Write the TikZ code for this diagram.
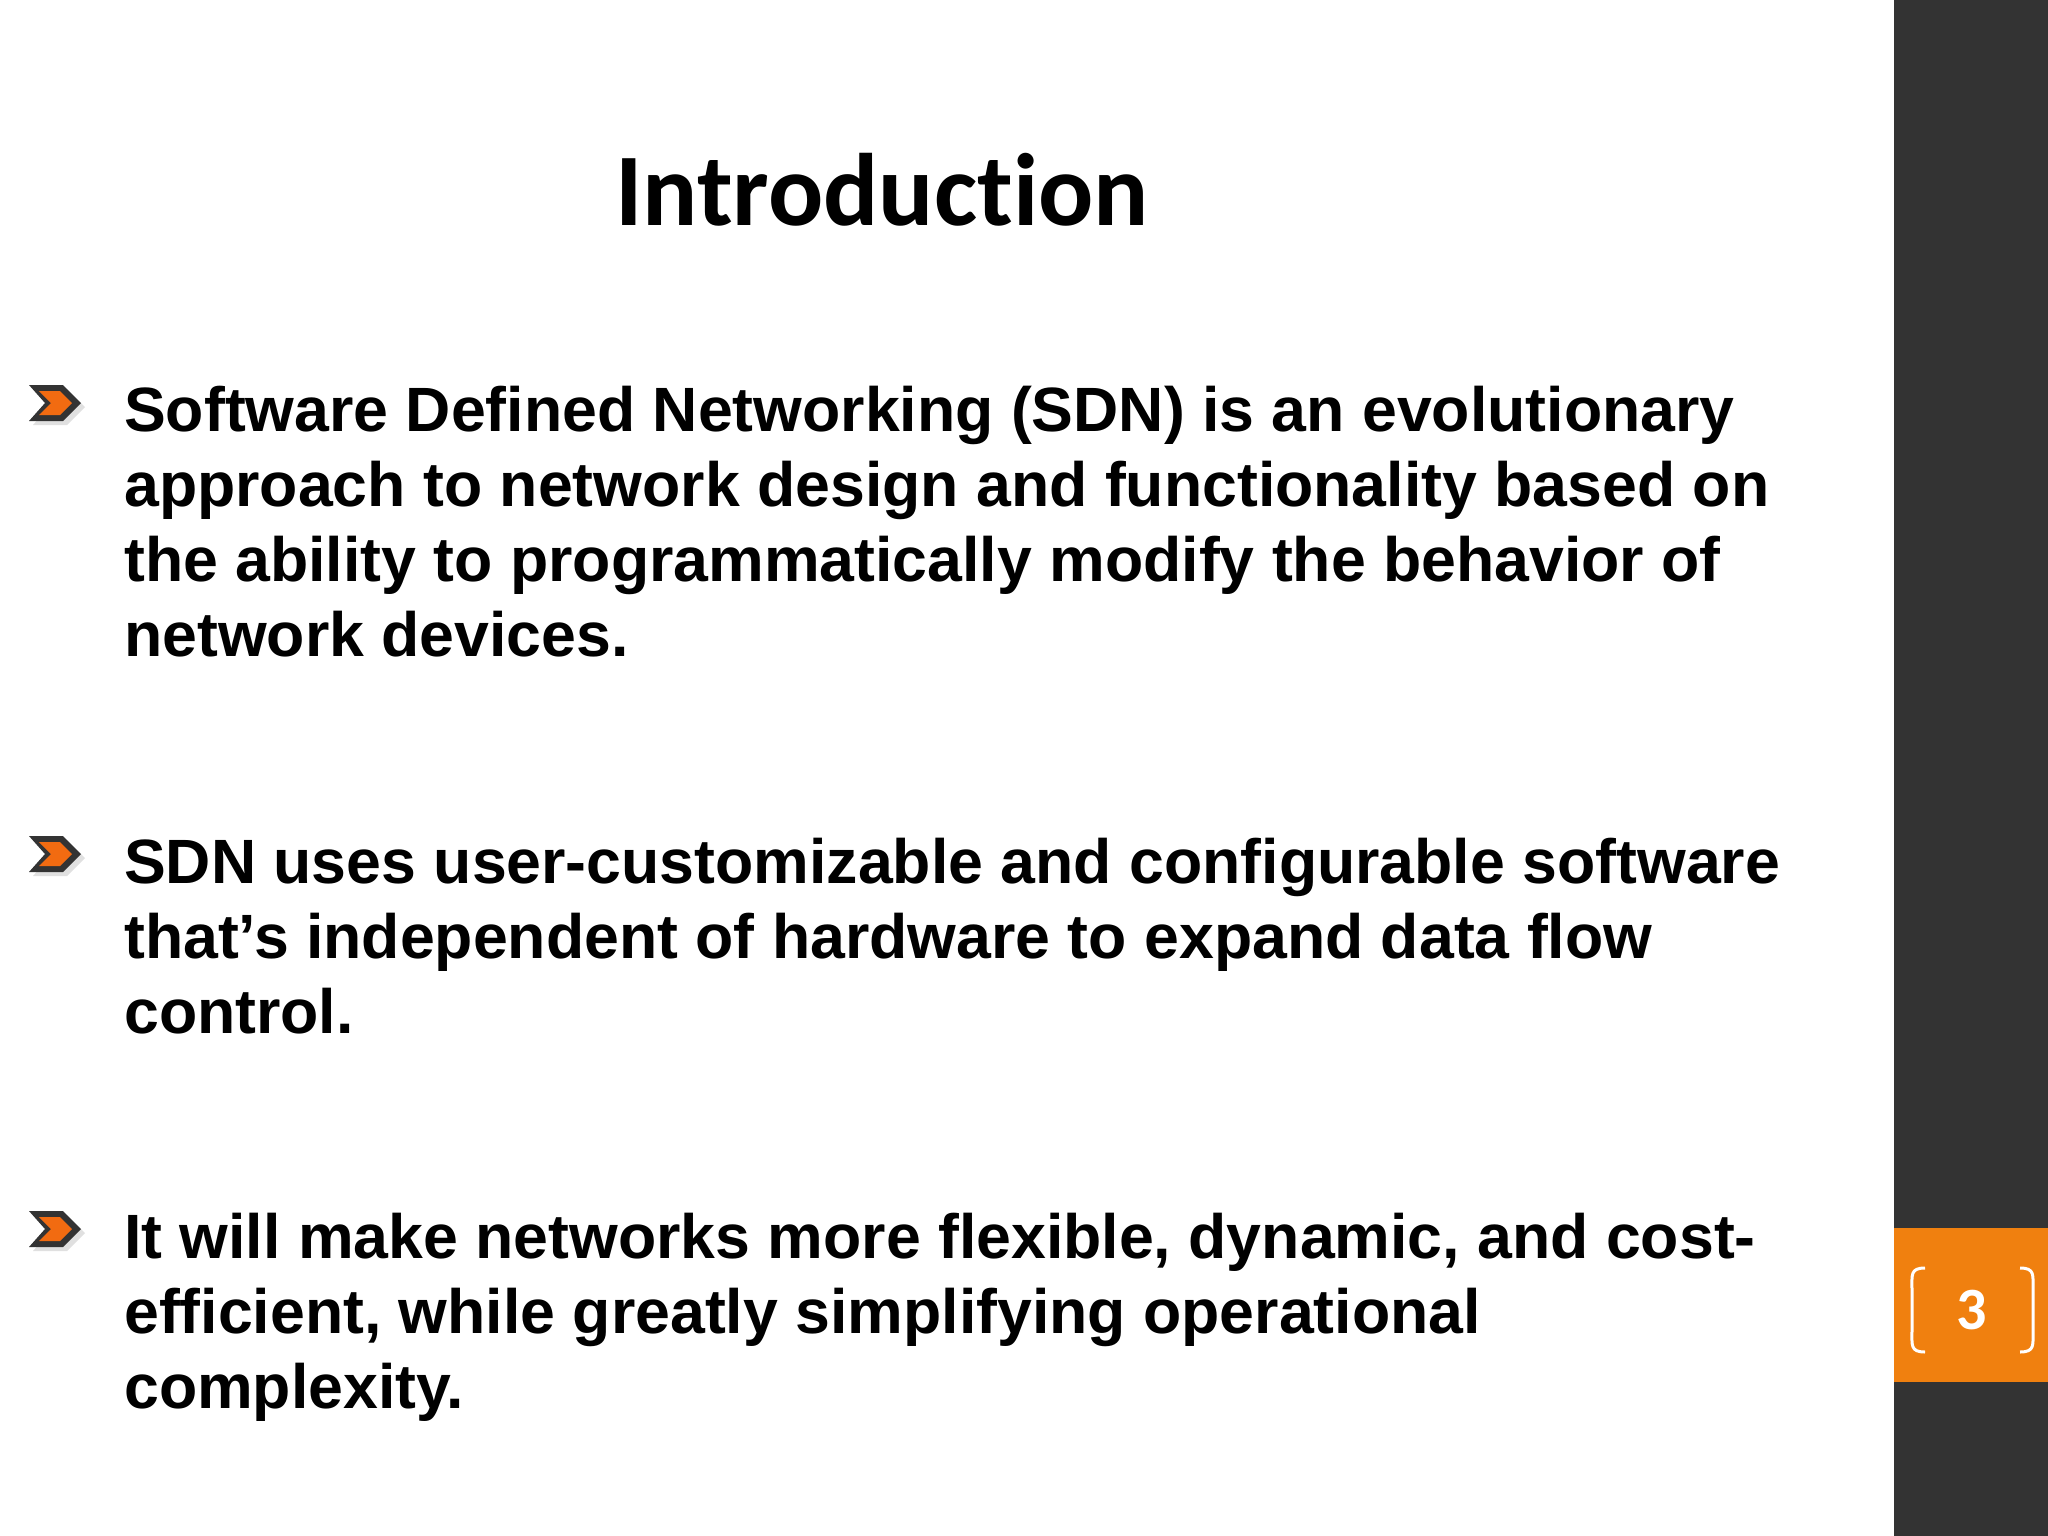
\documentclass[tikz,border=0pt]{standalone}
\usepackage{fontspec}
\setmainfont{Liberation Sans}
\newfontfamily\carl[Ligatures=NoCommon]{Carlito}
\definecolor{darkbar}{HTML}{333333}
\definecolor{orng}{HTML}{F0800F}
\definecolor{arrorng}{HTML}{F26B11}
\tikzset{
  btext/.style={anchor=base west, inner sep=0pt, font=\fontsize{62.6}{75}\selectfont\bfseries},
  chev/.pic={
    \fill[black!20,opacity=0.6] (4,4) -- (38,4) -- (56,22) -- (38,40) -- (4,40) -- (20,22) -- cycle;
    \fill[darkbar] (0,0) -- (34,0) -- (52,18) -- (34,36) -- (0,36) -- (16,18) -- cycle;
    \fill[arrorng] (10,6) -- (31,6) -- (43,18) -- (31,30) -- (10,30) -- (22,18) -- cycle;
  }
}
\begin{document}
\begin{tikzpicture}[x=1pt,y=-1pt]
\useasboundingbox (0,0) rectangle (2048,1536);
\fill[white] (0,0) rectangle (2048,1536);
\fill[darkbar] (1894,0) rectangle (2048,1536);
\fill[orng] (1894,1228) rectangle (2048,1382);
\node[font=\carl\fontsize{60}{64}\selectfont\bfseries, text=white] (pg) at (1972,1310) {3};
\draw[white, line width=3pt] (1925,1268) .. controls (1910,1268) and (1912,1275) .. (1912,1290) -- (1912,1330) .. controls (1912,1345) and (1910,1352) .. (1925,1352);
\draw[white, line width=3pt] (2020,1268) .. controls (2035,1268) and (2033,1275) .. (2033,1290) -- (2033,1330) .. controls (2033,1345) and (2035,1352) .. (2020,1352);
\node[font=\carl\fontsize{103}{108}\selectfont\bfseries, anchor=base, inner sep=0pt] (title) at (882,225) {Introduct\kern0pt ion};
\pic at (29,385) {chev};
\pic at (29,836) {chev};
\pic at (29,1211) {chev};
\node[btext] (b1a) at (124,431) {Software Defined Networking (SDN) is an evolutionary};
\node[btext] (b1b) at (124,506) {approach to network design and functionality based on};
\node[btext] (b1c) at (124,581) {the ability to programmatically modify the behavior of};
\node[btext] (b1d) at (124,656) {network devices.};
\node[btext] (b2a) at (124,883) {SDN uses user-customizable and configurable software};
\node[btext] (b2b) at (124,958) {that’s independent of hardware to expand data flow};
\node[btext] (b2c) at (124,1033) {control.};
\node[btext] (b3a) at (124,1258) {It will make networks more flexible, dynamic, and cost-};
\node[btext] (b3b) at (124,1333) {efficient, while greatly simplifying operational};
\node[btext] (b3c) at (124,1408) {complexity.};
\end{tikzpicture}
\end{document}
